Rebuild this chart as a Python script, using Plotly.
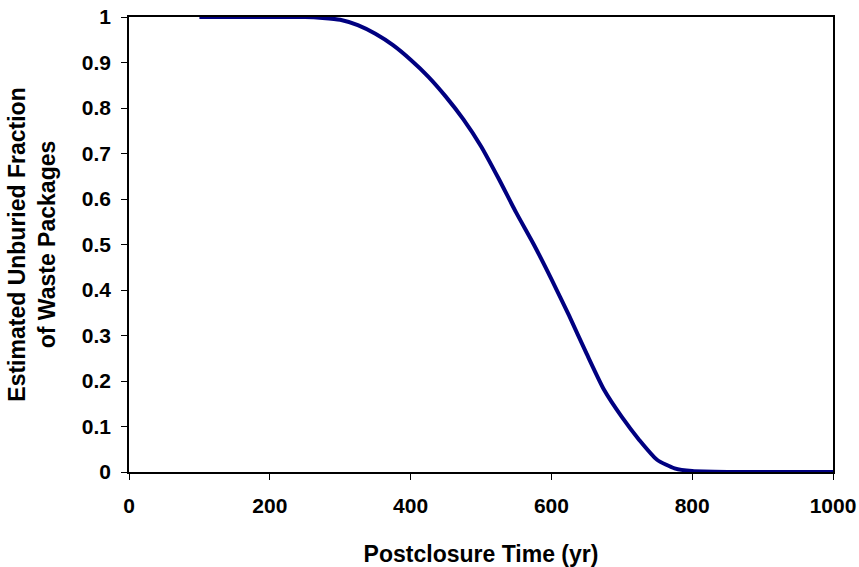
import plotly.graph_objects as go

time_yr = [100, 150, 200, 250, 275, 300, 325, 350, 375, 400, 425, 450, 475, 500,
           525, 550, 575, 600, 625, 650, 675, 700, 725, 750, 775, 800, 850, 900, 950, 1000]
fraction = [1.0, 1.0, 1.0, 1.0, 0.998, 0.994, 0.982, 0.963, 0.938, 0.906, 0.869, 0.825,
            0.775, 0.716, 0.645, 0.570, 0.500, 0.424, 0.344, 0.260, 0.180, 0.121, 0.070,
            0.027, 0.008, 0.002, 0.0, 0.0, 0.0, 0.0]

x_ticks = [0, 200, 400, 600, 800, 1000]
y_ticks = [0, 0.1, 0.2, 0.3, 0.4, 0.5, 0.6, 0.7, 0.8, 0.9, 1]
y_tick_text = ["0", "0.1", "0.2", "0.3", "0.4", "0.5", "0.6", "0.7", "0.8", "0.9", "1"]

font_family = "Liberation Sans, Arial, sans-serif"

fig = go.Figure()
fig.add_trace(go.Scatter(
    x=time_yr, y=fraction, mode="lines",
    line=dict(color="#000080", width=4, shape="spline", smoothing=0.6),
    showlegend=False,
))

fig.update_layout(
    width=859, height=567,
    margin=dict(l=129, r=26, t=17, b=95),
    plot_bgcolor="white", paper_bgcolor="white",
    font=dict(family=font_family, size=21, color="black", weight="bold"),
)
fig.update_xaxes(
    range=[0, 1000], tickvals=x_ticks, automargin=False,
    showline=True, linecolor="black", linewidth=1.5, mirror=True,
    ticks="outside", ticklen=6, tickcolor="black", tickwidth=1,
    showgrid=False, zeroline=False,
    tickfont=dict(size=21, weight="bold"),
    ticklabelstandoff=8,
    title=dict(text="Postclosure Time (yr)", font=dict(size=23, weight="bold"), standoff=33),
)
fig.update_yaxes(
    range=[0, 1], tickvals=y_ticks, ticktext=y_tick_text, automargin=False,
    showline=True, linecolor="black", linewidth=1.5, mirror=True,
    ticks="outside", ticklen=6, tickcolor="black", tickwidth=1,
    showgrid=False, zeroline=False,
    tickfont=dict(size=21, weight="bold"),
    ticklabelstandoff=6,
    title=dict(text="Estimated Unburied Fraction<br>of Waste Packages",
               font=dict(size=23, weight="bold"), standoff=20),
)

fig.write_html("out.html")
